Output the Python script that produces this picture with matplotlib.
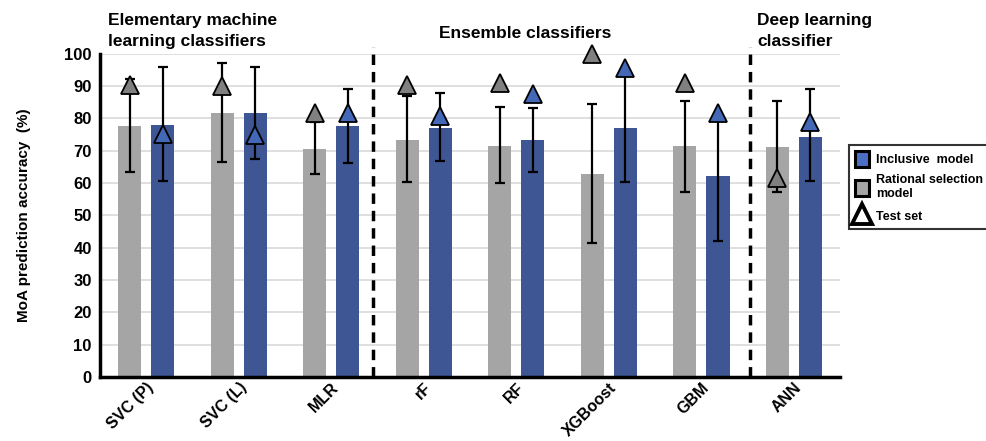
import matplotlib.pyplot as plt
import numpy as np
from matplotlib.patches import Patch
from matplotlib.lines import Line2D

plt.rcParams['font.family'] = ['Liberation Sans', 'DejaVu Sans']
plt.rcParams['font.weight'] = 'bold'

#===========================================================#
#                          数据                              #
#===========================================================#
models = ["SVC (P)", "SVC (L)", "MLR", "rF", "RF", "XGBoost", "GBM", "ANN"]

rational_mean = [77.7, 81.6, 70.7, 73.4, 71.6, 62.8, 71.5, 71.2]
rational_low = [63.4, 66.5, 62.8, 60.3, 60.0, 41.6, 57.4, 57.1]
rational_high = [92.2, 97.3, 78.8, 86.8, 83.5, 84.5, 85.5, 85.5]
rational_test = [90.2, 90.0, 81.8, 90.4, 90.9, 100.0, 91.1, 61.5]

inclusive_mean = [78.1, 81.6, 77.7, 77.2, 73.4, 77.0, 62.2, 74.4]
inclusive_low = [60.5, 67.5, 66.2, 66.7, 63.4, 60.3, 42.2, 60.5]
inclusive_high = [95.9, 95.9, 89.2, 87.8, 83.3, 94.0, 81.0, 89.1]
inclusive_test = [75.1, 75.0, 81.8, 80.8, 87.6, 95.6, 81.6, 79.0]

group_titles = ["Elementary machine\nlearning classifiers", "Ensemble classifiers", "Deep learning\nclassifier"]
#===========================================================#

GRAY = '#A5A5A5'
BLUE = '#3E5694'
TRI_GRAY = '#808080'
TRI_BLUE = '#4468B8'

fig = plt.figure(figsize=(9.86, 4.41), dpi=100)
ax = fig.add_axes([0.1014, 0.145, 0.7506, 0.733])

x = np.arange(len(models))
off = 0.18
w = 0.25

ax.bar(x - off, rational_mean, width=w, color=GRAY, zorder=2)
ax.bar(x + off, inclusive_mean, width=w, color=BLUE, zorder=2)

r_err = [np.array(rational_mean) - np.array(rational_low), np.array(rational_high) - np.array(rational_mean)]
i_err = [np.array(inclusive_mean) - np.array(inclusive_low), np.array(inclusive_high) - np.array(inclusive_mean)]
ax.errorbar(x - off, rational_mean, yerr=r_err, fmt='none', ecolor='black', elinewidth=1.6, capsize=3.5, capthick=1.6, zorder=3)
ax.errorbar(x + off, inclusive_mean, yerr=i_err, fmt='none', ecolor='black', elinewidth=1.6, capsize=3.5, capthick=1.6, zorder=3)

ax.plot(x - off, rational_test, linestyle='none', marker='^', ms=13, mfc=TRI_GRAY, mec='black', mew=1.3, zorder=4, clip_on=False)
ax.plot(x + off, inclusive_test, linestyle='none', marker='^', ms=13, mfc=TRI_BLUE, mec='black', mew=1.3, zorder=4, clip_on=False)

# 分组虚线
for xv in [2.45, 6.53]:
    ax.axvline(xv, ymin=0, ymax=1.02, color='black', linestyle=(0, (3, 2)), lw=2.5, zorder=3, clip_on=False)

ax.set_xlim(-0.5, 7.5)
ax.set_ylim(0, 100)
ax.set_yticks(range(0, 101, 10))
ax.yaxis.grid(True, color='#D9D9D9', lw=1.2, zorder=0)
ax.set_axisbelow(True)
for s in ['top', 'right']:
    ax.spines[s].set_visible(False)
ax.spines['left'].set_linewidth(2.5)
ax.spines['bottom'].set_linewidth(2.5)
ax.tick_params(axis='y', length=0, labelsize=12, pad=6)
ax.tick_params(axis='x', length=0, labelsize=11.5, pad=2)
ax.set_xticks(x)
ax.set_xticklabels(models, rotation=45, ha='right', rotation_mode='anchor', fontweight='bold')
for t in ax.get_yticklabels():
    t.set_fontweight('bold')
ax.set_ylabel('MoA prediction accuracy  (%)', fontsize=11, fontweight='bold', labelpad=24)

# 分组标题
fig.text(108 / 986, 1 - 31 / 441, group_titles[0], fontsize=12.5, fontweight='bold', va='center', ha='left', linespacing=1.45)
fig.text(525 / 986, 1 - 34 / 441, group_titles[1], fontsize=12.5, fontweight='bold', va='center', ha='center')
fig.text(757 / 986, 1 - 31 / 441, group_titles[2], fontsize=12.5, fontweight='bold', va='center', ha='left', linespacing=1.45)

handles = [
    Patch(facecolor='#4A6FC4', edgecolor='black', lw=2.2),
    Patch(facecolor=GRAY, edgecolor='black', lw=2.2),
    Line2D([], [], linestyle='none', marker='^', ms=14, mfc='white', mec='black', mew=2.8),
]
labels = ['Inclusive  model', 'Rational selection\nmodel', 'Test set']
leg = fig.legend(handles, labels, loc='upper left', bbox_to_anchor=(843 / 986, 1 - 139 / 441),
                 frameon=True, fancybox=False, edgecolor='black', prop={'weight': 'bold', 'size': 9},
                 handlelength=1.1, handleheight=1.6, handletextpad=0.6, borderpad=0.45, labelspacing=0.6)
leg.get_frame().set_linewidth(1.5)

plt.savefig('out.png', dpi=100)
